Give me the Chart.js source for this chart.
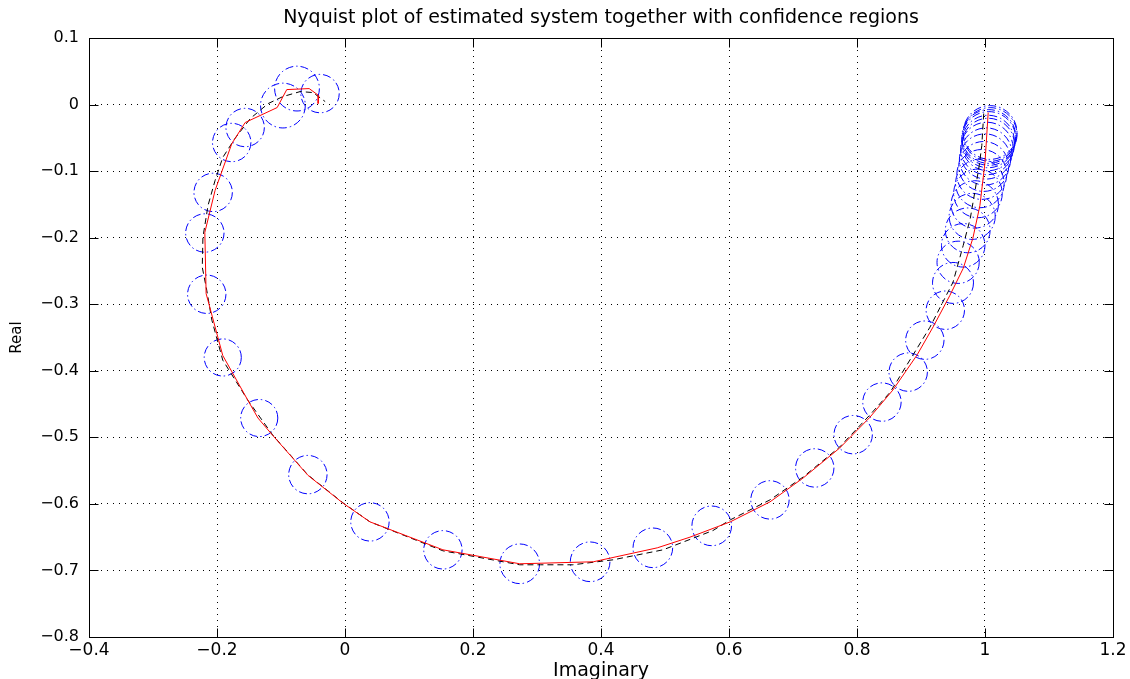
<!DOCTYPE html>
<html>
<head>
<meta charset="utf-8">
<script src="https://cdn.jsdelivr.net/npm/chart.js@4/dist/chart.umd.min.js"></script>
<style>
  body { margin: 0; background: #fff; }
  #wrap { width: 1130px; height: 679px; }
</style>
</head>
<body>
<div id="wrap"><canvas id="myChart" width="1130" height="679"></canvas></div>
<script>
// estimated system (red, solid)
const estX = [1.005, 1.0, 0.992, 0.981, 0.966, 0.945, 0.919, 0.894, 0.856, 0.820, 0.773, 0.716, 0.664, 0.602, 0.539, 0.488, 0.388, 0.273, 0.153, 0.039, -0.003, -0.058, -0.113, -0.136, -0.152, -0.191, -0.217, -0.219, -0.203, -0.177, -0.156, -0.106, -0.091, -0.056, -0.041, -0.042];
const estY = [-0.012, -0.087, -0.152, -0.201, -0.246, -0.287, -0.334, -0.376, -0.429, -0.470, -0.516, -0.561, -0.597, -0.627, -0.650, -0.666, -0.687, -0.690, -0.669, -0.627, -0.599, -0.557, -0.497, -0.471, -0.444, -0.377, -0.284, -0.192, -0.129, -0.059, -0.027, -0.0045, 0.0225, 0.024, 0.0135, 0.0015];

// true system (black, dashed)
const trueX = [0.998, 0.995, 0.991, 0.984, 0.977, 0.966, 0.950, 0.914, 0.894, 0.852, 0.820, 0.773, 0.716, 0.664, 0.602, 0.575, 0.497, 0.419, 0.356, 0.305, 0.273, 0.153, 0.039, -0.003, -0.058, -0.113, -0.152, -0.191, -0.208, -0.216, -0.223, -0.222, -0.214, -0.203, -0.191, -0.172, -0.148, -0.120, -0.097, -0.070, -0.050, -0.031];
const trueY = [-0.0135, -0.0615, -0.0915, -0.132, -0.171, -0.2115, -0.267, -0.3345, -0.366, -0.432, -0.4665, -0.5145, -0.5595, -0.594, -0.624, -0.640, -0.669, -0.684, -0.6915, -0.6915, -0.6915, -0.6705, -0.627, -0.5985, -0.5565, -0.4965, -0.444, -0.384, -0.324, -0.279, -0.2445, -0.1995, -0.1515, -0.114, -0.0795, -0.051, -0.021, 0.0015, 0.012, 0.0195, 0.018, 0.0045];

// confidence regions: centres and radius (data units)
const confX = [-0.039, -0.075, -0.097, -0.156, -0.177, -0.206, -0.219, -0.216, -0.191, -0.134, -0.058, 0.039, 0.153, 0.273, 0.383, 0.481, 0.573, 0.664, 0.734, 0.794, 0.839, 0.880, 0.906, 0.938, 0.950,
  0.958, 0.966, 0.973, 0.980, 0.984, 0.989, 0.992, 0.995, 0.998, 1.000, 1.002, 1.003, 1.005, 1.005, 1.006, 1.006, 1.008, 1.008];
const confY = [0.0165, 0.024, -0.0015, -0.0345, -0.057, -0.132, -0.193, -0.285, -0.380, -0.471, -0.556, -0.627, -0.669, -0.690, -0.687, -0.666, -0.633, -0.594, -0.546, -0.496, -0.447, -0.402, -0.354, -0.309, -0.268,
  -0.237, -0.2115, -0.189, -0.168, -0.150, -0.1335, -0.1185, -0.105, -0.093, -0.0825, -0.0735, -0.066, -0.060, -0.0555, -0.051, -0.048, -0.045, -0.042];
const confR = [0.03, 0.035, 0.035, 0.03, 0.03, 0.03, 0.03, 0.03, 0.029, 0.029, 0.03, 0.03, 0.03, 0.031, 0.031, 0.031, 0.031, 0.03, 0.03, 0.03, 0.03, 0.03, 0.03, 0.03, 0.032,
  0.033, 0.034, 0.035, 0.036, 0.037, 0.038, 0.038, 0.039, 0.039, 0.040, 0.040, 0.041, 0.041, 0.041, 0.042, 0.042, 0.042, 0.042];

const xMin = -0.4, xMax = 1.2, xStep = 0.2;
const yMin = -0.8, yMax = 0.1, yStep = 0.1;

const toPts = (xs, ys) => xs.map((x, i) => ({x: x, y: ys[i]}));
const fmt = v => String(Math.round(v * 10) / 10).replace('-', '\u2212');

Chart.defaults.font.family = 'DejaVu Sans';
Chart.defaults.color = '#000';

// dash-dot circles, title centred over the plot, axis box with inward ticks
const boxPlugin = {
    id: 'boxPlugin',
    afterLayout(chart) {
        const tb = chart.titleBlock;
        if (tb) {
            tb.left = chart.chartArea.left;
            tb.right = chart.chartArea.right;
            tb.width = tb.right - tb.left;
        }
    },
    beforeDatasetDraw(chart, args) {
        if (args.index === 2) {
            chart.ctx.save();
            chart.ctx.setLineDash([8, 3, 1.5, 3]);
        }
    },
    afterDatasetDraw(chart, args) {
        if (args.index === 2) chart.ctx.restore();
    },
    afterDraw(chart) {
        const {ctx, chartArea: a, scales} = chart;
        const L = Math.round(a.left) + 0.5, R = Math.round(a.right) + 0.5;
        const T = Math.round(a.top) + 0.5, B = Math.round(a.bottom) + 0.5;
        ctx.save();
        ctx.strokeStyle = '#000';
        ctx.lineWidth = 1;
        ctx.setLineDash([]);
        ctx.beginPath();
        scales.x.ticks.forEach(t => {
            const px = Math.round(scales.x.getPixelForValue(t.value)) + 0.5;
            ctx.moveTo(px, B); ctx.lineTo(px, B - 9);
            ctx.moveTo(px, T); ctx.lineTo(px, T + 9);
        });
        scales.y.ticks.forEach(t => {
            const py = Math.round(scales.y.getPixelForValue(t.value)) + 0.5;
            ctx.moveTo(L, py); ctx.lineTo(L + 9, py);
            ctx.moveTo(R, py); ctx.lineTo(R - 9, py);
        });
        ctx.stroke();
        ctx.strokeRect(L, T, R - L, B - T);
        ctx.restore();
    }
};

const ctx = document.getElementById('myChart');
new Chart(ctx, {
    type: 'scatter',
    data: {
        datasets: [{
            label: 'estimated',
            data: toPts(estX, estY),
            showLine: true,
            borderColor: '#ff0000',
            borderWidth: 1,
            pointRadius: 0,
            fill: false
        }, {
            label: 'true',
            data: toPts(trueX, trueY),
            showLine: true,
            borderColor: '#000000',
            borderWidth: 1,
            borderDash: [6, 4],
            pointRadius: 0,
            fill: false
        }, {
            label: 'confidence',
            data: toPts(confX, confY),
            showLine: false,
            pointStyle: 'circle',
            pointRadius: c => {
                const sx = c.chart.scales.x;
                return sx.getPixelForValue(confR[c.dataIndex]) - sx.getPixelForValue(0);
            },
            pointBorderColor: '#0000ff',
            pointBackgroundColor: 'rgba(0,0,0,0)',
            pointBorderWidth: 1
        }]
    },
    options: {
        responsive: false,
        animation: false,
        devicePixelRatio: 1,
        events: [],
        layout: { padding: { left: 0, right: 17, top: 0, bottom: 0 } },
        plugins: {
            legend: { display: false },
            tooltip: { enabled: false },
            title: {
                display: true,
                text: 'Nyquist plot of estimated system together with confidence regions',
                font: { size: 19, weight: 'normal' },
                padding: { top: 6.6, bottom: 8.6 }
            }
        },
        scales: {
            x: {
                type: 'linear',
                min: xMin, max: xMax,
                ticks: { stepSize: xStep, padding: 3.3, font: { size: 17 }, callback: v => fmt(v) },
                grid: { color: '#000', lineWidth: 1, drawTicks: false },
                border: { display: false, dash: [1, 5] },
                title: { display: true, text: 'Imaginary', font: { size: 19 }, padding: { top: 0, bottom: -3.8 } },
                afterFit: s => { s.height = 42; }
            },
            y: {
                type: 'linear',
                min: yMin, max: yMax,
                ticks: { stepSize: yStep, padding: 10, font: { size: 16 }, callback: v => fmt(v) },
                grid: { color: '#000', lineWidth: 1, drawTicks: false },
                border: { display: false, dash: [1, 5] },
                title: { display: true, text: 'Real', font: { size: 15 }, padding: { top: 8.5, bottom: 0 } },
                afterFit: s => { s.width = 89; }
            }
        }
    },
    plugins: [boxPlugin]
});
</script>
</body>
</html>
